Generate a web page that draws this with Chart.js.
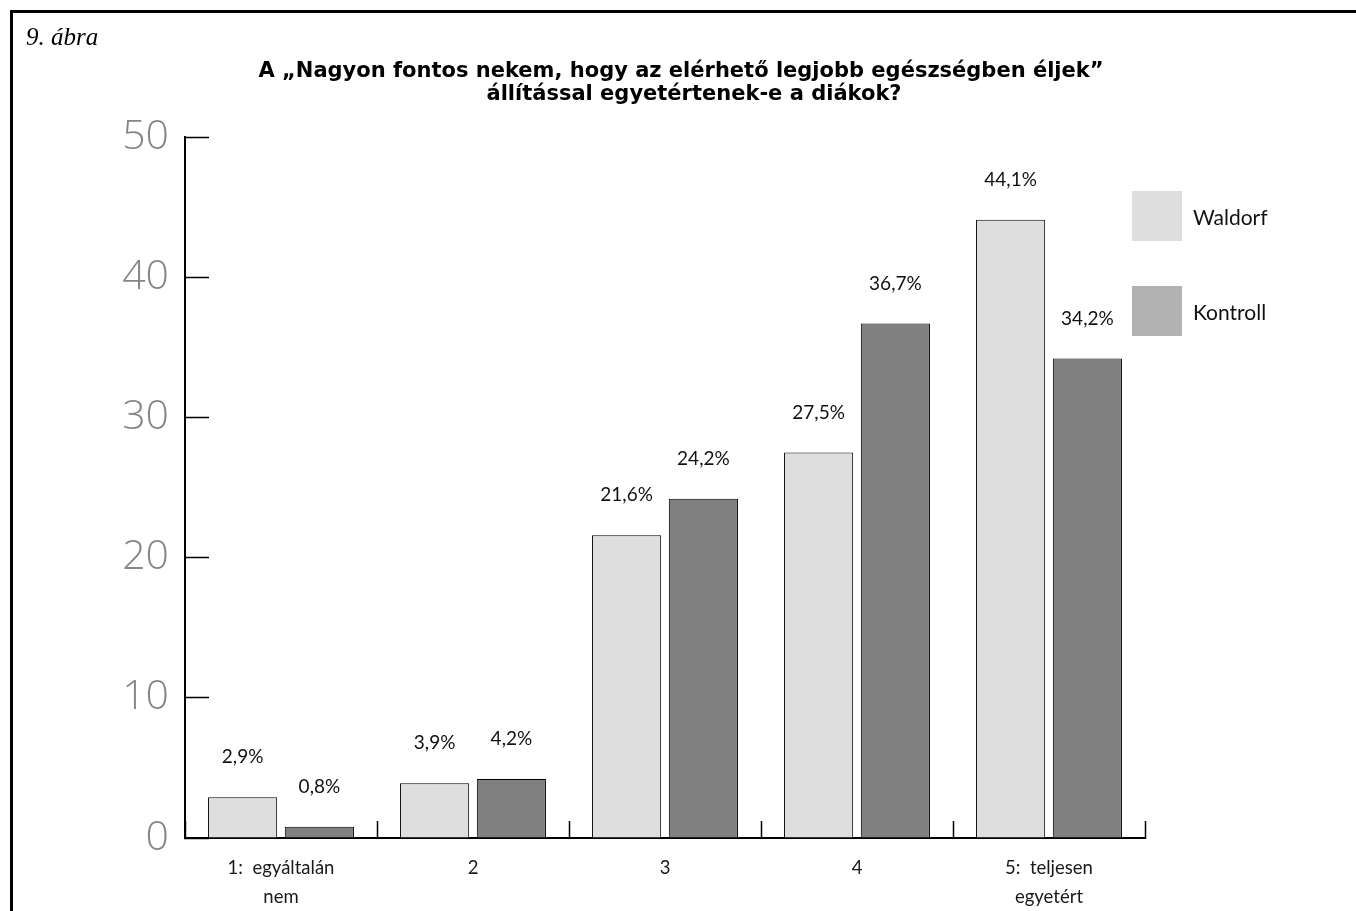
<!DOCTYPE html>
<html>
<head>
<meta charset="utf-8">
<script src="https://cdn.jsdelivr.net/npm/chart.js@4"></script>
<style>
  html, body { margin: 0; padding: 0; background: #fff; }
  #wrap { position: relative; width: 1356px; height: 911px; overflow: hidden; }
  #frame { position: absolute; left: 10px; top: 10px; right: -10px; bottom: -10px;
           border-top: 3px solid #000; border-left: 3px solid #000; pointer-events: none; }
  canvas { position: absolute; left: 0; top: 0; }
</style>
</head>
<body>
<div id="wrap">
  <canvas id="c" width="1356" height="911"></canvas>
  <div id="frame"></div>
</div>
<script>
// ---- data ----
const categories = [["1:  egyáltalán", "nem"], "2", "3", "4", ["5:  teljesen", "egyetért"]];
const seriesNames = ["Waldorf", "Kontroll"];
const waldorf = [2.9, 3.9, 21.6, 27.5, 44.1];
const kontroll = [0.8, 4.2, 24.2, 36.7, 34.2];
const yTicks = [0, 10, 20, 30, 40, 50];
const figureLabel = "9. ábra";
const titleLines = ["A „Nagyon fontos nekem, hogy az elérhető legjobb egészségben éljek”",
                    "állítással egyetértenek-e a diákok?"];

// ---- styles ----
const barColors = ["#dedede", "#808080"];
const legendColors = ["#dedede", "#b2b2b2"];

const fmt = v => v.toFixed(1).replace(".", ",") + "%";

const decorPlugin = {
  id: "decor",
  afterDraw(chart) {
    const ctx = chart.ctx;
    const ca = chart.chartArea;
    ctx.save();
    // figure label
    ctx.fillStyle = "#000";
    ctx.textAlign = "left";
    ctx.textBaseline = "alphabetic";
    ctx.font = "italic 25px 'Liberation Serif', serif";
    ctx.fillText(figureLabel, 26, 45);
    // title
    ctx.font = "bold 21px 'DejaVu Sans', sans-serif";
    ctx.textAlign = "center";
    ctx.fillText(titleLines[0], 681, 77);
    ctx.fillText(titleLines[1], 694, 100);
    // legend
    ctx.textAlign = "left";
    ctx.textBaseline = "middle";
    ctx.font = "21px Lato, sans-serif";
    chart.data.datasets.forEach((ds, i) => {
      const bx = ca.right - 13, by = ca.top + 54 + i * 95;
      ctx.fillStyle = legendColors[i];
      ctx.fillRect(bx, by, 50, 50);
      ctx.fillStyle = "#111";
      ctx.fillText(ds.label, bx + 61, by + 27);
    });
    ctx.restore();
  },
  afterDatasetsDraw(chart) {
    const ctx = chart.ctx;
    ctx.save();
    ctx.fillStyle = "#111";
    ctx.font = "19px Lato, sans-serif";
    ctx.textAlign = "center";
    ctx.textBaseline = "middle";
    chart.data.datasets.forEach((ds, i) => {
      chart.getDatasetMeta(i).data.forEach((el, j) => {
        ctx.fillText(fmt(ds.data[j]), el.x, el.y - 40);
      });
    });
    ctx.restore();
  }
};

new Chart(document.getElementById("c"), {
  type: "bar",
  data: {
    labels: categories,
    datasets: [
      { label: seriesNames[0], data: waldorf, backgroundColor: barColors[0], borderColor: "#000", borderWidth: 1 },
      { label: seriesNames[1], data: kontroll, backgroundColor: barColors[1], borderColor: "#000", borderWidth: 1 }
    ]
  },
  options: {
    responsive: false,
    animation: false,
    events: [],
    layout: { autoPadding: false, padding: { left: 0, right: 211, top: 137, bottom: 0 } },
    plugins: { legend: { display: false }, title: { display: false }, tooltip: { enabled: false } },
    datasets: { bar: { categoryPercentage: 0.8, barPercentage: 0.9 } },
    scales: {
      x: {
        afterFit(s) { s.height = 73; },
        border: { display: true, color: "#000", width: 2 },
        grid: { display: true, offset: true, drawOnChartArea: false, drawTicks: true,
                tickLength: -17, tickColor: "#000", tickWidth: 1.5, color: "#000" },
        ticks: { color: "#1a1a1a", padding: 33, maxRotation: 0, autoSkip: false,
                 font: { family: "Lato, sans-serif", size: 18.5, lineHeight: 29 / 18.5 } }
      },
      y: {
        min: 0, max: 50,
        afterFit(s) { s.width = 185; },
        afterBuildTicks(s) { s.ticks = yTicks.map(v => ({ value: v })); },
        border: { display: true, color: "#000", width: 2 },
        grid: { display: true, drawOnChartArea: false, drawTicks: true,
                tickLength: -24, tickColor: "#000", tickWidth: 1.5, color: "#000" },
        ticks: { color: "#868686", padding: 40,
                 font: { family: "'Open Sans', sans-serif", size: 41, weight: 300 } }
      }
    }
  },
  plugins: [decorPlugin]
});
</script>
</body>
</html>
